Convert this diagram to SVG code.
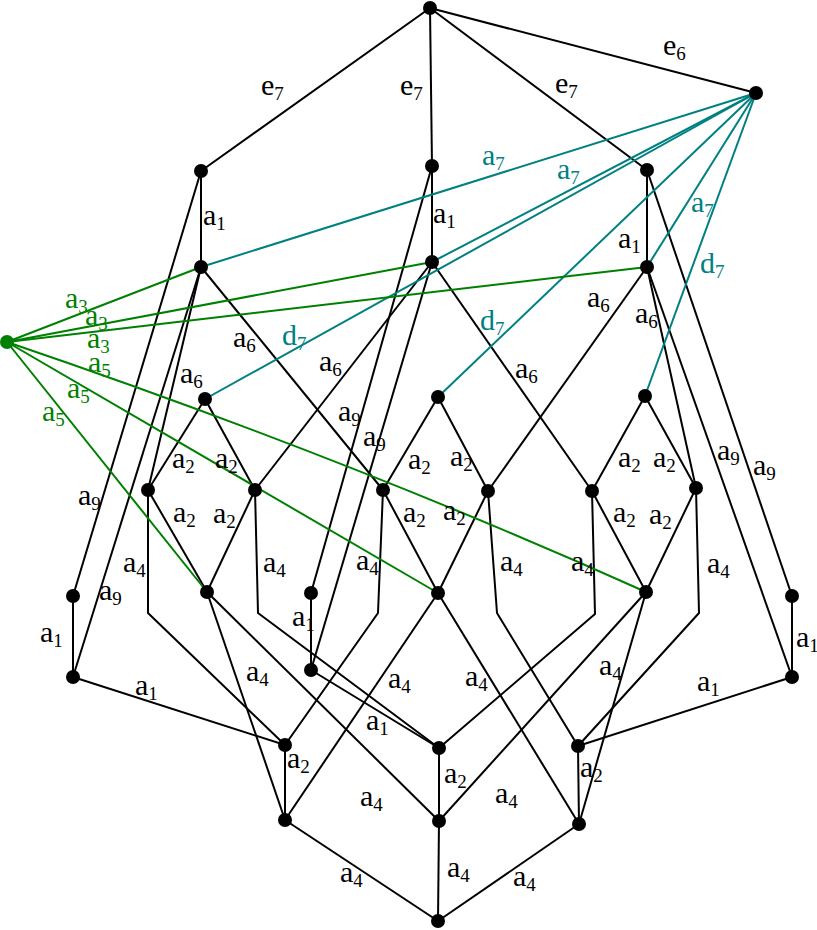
<svg xmlns="http://www.w3.org/2000/svg" width="817" height="930" viewBox="0 0 817 930">
<style>
.e{stroke:#000;stroke-width:2;fill:none;stroke-linejoin:round}
.t{stroke:#008080;stroke-width:2;fill:none}
.g{stroke:#008000;stroke-width:2;fill:none}
.n{fill:#000}
.ng{fill:#008000}
text{font-family:"Liberation Serif","DejaVu Serif",serif;font-size:30px;fill:#000}
text.tl{fill:#008080}
text.gl{fill:#008000}
.s{font-size:19px}
</style>
<rect width="817" height="930" fill="#fff"/>
<g id="connectors">
<line class="e" x1="430" y1="8" x2="201" y2="171"/>
<line class="e" x1="430" y1="8" x2="432" y2="166"/>
<line class="e" x1="430" y1="8" x2="647" y2="170"/>
<line class="e" x1="430" y1="8" x2="756" y2="93"/>
<line class="e" x1="201" y1="171" x2="201" y2="267"/>
<line class="e" x1="432" y1="166" x2="432" y2="262"/>
<line class="e" x1="647" y1="170" x2="647" y2="267"/>
<line class="e" x1="201" y1="171" x2="73" y2="596"/>
<line class="e" x1="432" y1="166" x2="311" y2="593"/>
<line class="e" x1="647" y1="170" x2="792" y2="596"/>
<line class="e" x1="201" y1="267" x2="383" y2="490"/>
<line class="e" x1="201" y1="267" x2="148" y2="490"/>
<line class="e" x1="201" y1="267" x2="73" y2="677"/>
<line class="e" x1="432" y1="262" x2="255" y2="490"/>
<line class="e" x1="432" y1="262" x2="592" y2="491"/>
<line class="e" x1="432" y1="262" x2="311" y2="670"/>
<line class="e" x1="647" y1="267" x2="488" y2="491"/>
<line class="e" x1="647" y1="267" x2="696" y2="488"/>
<line class="e" x1="647" y1="267" x2="792" y2="677"/>
<line class="e" x1="205" y1="399" x2="148" y2="490"/>
<line class="e" x1="205" y1="399" x2="255" y2="490"/>
<line class="e" x1="438" y1="397" x2="383" y2="490"/>
<line class="e" x1="438" y1="397" x2="488" y2="491"/>
<line class="e" x1="645" y1="396" x2="592" y2="491"/>
<line class="e" x1="645" y1="396" x2="696" y2="488"/>
<line class="e" x1="148" y1="490" x2="207" y2="592"/>
<line class="e" x1="255" y1="490" x2="207" y2="592"/>
<line class="e" x1="383" y1="490" x2="438" y2="593"/>
<line class="e" x1="488" y1="491" x2="438" y2="593"/>
<line class="e" x1="592" y1="491" x2="646" y2="592"/>
<line class="e" x1="696" y1="488" x2="646" y2="592"/>
<polyline class="e" points="148,490 148,613 285,745"/>
<polyline class="e" points="255,490 258,613 439,748"/>
<polyline class="e" points="383,490 378,613 285,745"/>
<polyline class="e" points="488,491 497,613 578,746"/>
<polyline class="e" points="592,491 595,614 439,748"/>
<polyline class="e" points="696,488 699,613 578,746"/>
<line class="e" x1="207" y1="592" x2="285" y2="820"/>
<line class="e" x1="207" y1="592" x2="439" y2="821"/>
<line class="e" x1="438" y1="593" x2="285" y2="820"/>
<line class="e" x1="438" y1="593" x2="579" y2="824"/>
<line class="e" x1="646" y1="592" x2="439" y2="821"/>
<line class="e" x1="646" y1="592" x2="579" y2="824"/>
<line class="e" x1="73" y1="596" x2="73" y2="677"/>
<line class="e" x1="311" y1="593" x2="311" y2="670"/>
<line class="e" x1="792" y1="596" x2="792" y2="677"/>
<line class="e" x1="73" y1="677" x2="285" y2="745"/>
<line class="e" x1="311" y1="670" x2="439" y2="748"/>
<line class="e" x1="792" y1="677" x2="578" y2="746"/>
<line class="e" x1="285" y1="745" x2="285" y2="820"/>
<line class="e" x1="439" y1="748" x2="439" y2="821"/>
<line class="e" x1="578" y1="746" x2="579" y2="824"/>
<line class="e" x1="285" y1="820" x2="438" y2="921"/>
<line class="e" x1="439" y1="821" x2="438" y2="921"/>
<line class="e" x1="579" y1="824" x2="438" y2="921"/>
<line class="t" x1="756" y1="93" x2="201" y2="267"/>
<line class="t" x1="756" y1="93" x2="432" y2="262"/>
<line class="t" x1="756" y1="93" x2="205" y2="399"/>
<line class="t" x1="756" y1="93" x2="438" y2="397"/>
<line class="t" x1="756" y1="93" x2="647" y2="267"/>
<line class="t" x1="756" y1="93" x2="645" y2="396"/>
<line class="g" x1="7" y1="342" x2="201" y2="267"/>
<line class="g" x1="7" y1="342" x2="432" y2="262"/>
<line class="g" x1="7" y1="342" x2="647" y2="267"/>
<path class="g" d="M7,342 Q348,458 646,592"/>
<line class="g" x1="7" y1="342" x2="438" y2="593"/>
<line class="g" x1="7" y1="342" x2="207" y2="592"/>
</g>
<g id="labels">
<text x="261" y="95">e<tspan class="s" dy="5">7</tspan></text>
<text x="400" y="95">e<tspan class="s" dy="5">7</tspan></text>
<text x="555" y="93">e<tspan class="s" dy="5">7</tspan></text>
<text x="663" y="55">e<tspan class="s" dy="5">6</tspan></text>
<text x="203" y="225">a<tspan class="s" dy="5">1</tspan></text>
<text x="433" y="223">a<tspan class="s" dy="5">1</tspan></text>
<text x="618" y="248">a<tspan class="s" dy="5">1</tspan></text>
<text class="tl" x="482" y="165">a<tspan class="s" dy="5">7</tspan></text>
<text class="tl" x="557" y="179">a<tspan class="s" dy="5">7</tspan></text>
<text class="tl" x="691" y="212">a<tspan class="s" dy="5">7</tspan></text>
<text class="tl" x="700" y="273">d<tspan class="s" dy="5">7</tspan></text>
<text class="tl" x="480" y="330">d<tspan class="s" dy="5">7</tspan></text>
<text class="tl" x="282" y="345">d<tspan class="s" dy="5">7</tspan></text>
<text class="gl" x="65" y="308">a<tspan class="s" dy="5">3</tspan></text>
<text class="gl" x="85" y="325">a<tspan class="s" dy="5">3</tspan></text>
<text class="gl" x="87" y="348">a<tspan class="s" dy="5">3</tspan></text>
<text class="gl" x="88" y="372">a<tspan class="s" dy="5">5</tspan></text>
<text class="gl" x="67" y="398">a<tspan class="s" dy="5">5</tspan></text>
<text class="gl" x="42" y="421">a<tspan class="s" dy="5">5</tspan></text>
<text x="587" y="307">a<tspan class="s" dy="5">6</tspan></text>
<text x="635" y="323">a<tspan class="s" dy="5">6</tspan></text>
<text x="233" y="347">a<tspan class="s" dy="5">6</tspan></text>
<text x="180" y="383">a<tspan class="s" dy="5">6</tspan></text>
<text x="319" y="371">a<tspan class="s" dy="5">6</tspan></text>
<text x="515" y="378">a<tspan class="s" dy="5">6</tspan></text>
<text x="338" y="421">a<tspan class="s" dy="5">9</tspan></text>
<text x="363" y="446">a<tspan class="s" dy="5">9</tspan></text>
<text x="717" y="460">a<tspan class="s" dy="5">9</tspan></text>
<text x="753" y="475">a<tspan class="s" dy="5">9</tspan></text>
<text x="78" y="505">a<tspan class="s" dy="5">9</tspan></text>
<text x="99" y="600">a<tspan class="s" dy="5">9</tspan></text>
<text x="172" y="468">a<tspan class="s" dy="5">2</tspan></text>
<text x="215" y="468">a<tspan class="s" dy="5">2</tspan></text>
<text x="173" y="522">a<tspan class="s" dy="5">2</tspan></text>
<text x="213" y="523">a<tspan class="s" dy="5">2</tspan></text>
<text x="408" y="469">a<tspan class="s" dy="5">2</tspan></text>
<text x="450" y="466">a<tspan class="s" dy="5">2</tspan></text>
<text x="403" y="522">a<tspan class="s" dy="5">2</tspan></text>
<text x="443" y="520">a<tspan class="s" dy="5">2</tspan></text>
<text x="618" y="467">a<tspan class="s" dy="5">2</tspan></text>
<text x="653" y="467">a<tspan class="s" dy="5">2</tspan></text>
<text x="613" y="522">a<tspan class="s" dy="5">2</tspan></text>
<text x="649" y="524">a<tspan class="s" dy="5">2</tspan></text>
<text x="123" y="572">a<tspan class="s" dy="5">4</tspan></text>
<text x="263" y="572">a<tspan class="s" dy="5">4</tspan></text>
<text x="356" y="570">a<tspan class="s" dy="5">4</tspan></text>
<text x="500" y="571">a<tspan class="s" dy="5">4</tspan></text>
<text x="571" y="571">a<tspan class="s" dy="5">4</tspan></text>
<text x="707" y="573">a<tspan class="s" dy="5">4</tspan></text>
<text x="40" y="642">a<tspan class="s" dy="5">1</tspan></text>
<text x="292" y="626">a<tspan class="s" dy="5">1</tspan></text>
<text x="796" y="647">a<tspan class="s" dy="5">1</tspan></text>
<text x="135" y="695">a<tspan class="s" dy="5">1</tspan></text>
<text x="366" y="730">a<tspan class="s" dy="5">1</tspan></text>
<text x="697" y="691">a<tspan class="s" dy="5">1</tspan></text>
<text x="246" y="681">a<tspan class="s" dy="5">4</tspan></text>
<text x="388" y="688">a<tspan class="s" dy="5">4</tspan></text>
<text x="465" y="686">a<tspan class="s" dy="5">4</tspan></text>
<text x="599" y="675">a<tspan class="s" dy="5">4</tspan></text>
<text x="360" y="806">a<tspan class="s" dy="5">4</tspan></text>
<text x="495" y="803">a<tspan class="s" dy="5">4</tspan></text>
<text x="287" y="768">a<tspan class="s" dy="5">2</tspan></text>
<text x="444" y="783">a<tspan class="s" dy="5">2</tspan></text>
<text x="580" y="777">a<tspan class="s" dy="5">2</tspan></text>
<text x="340" y="882">a<tspan class="s" dy="5">4</tspan></text>
<text x="447" y="877">a<tspan class="s" dy="5">4</tspan></text>
<text x="513" y="886">a<tspan class="s" dy="5">4</tspan></text>
</g>
<g id="n-T"><circle class="n" cx="430" cy="8" r="7"/></g>
<g id="n-E6"><circle class="n" cx="756" cy="93" r="7"/></g>
<g id="n-L1"><circle class="n" cx="201" cy="171" r="7"/></g>
<g id="n-C1"><circle class="n" cx="432" cy="166" r="7"/></g>
<g id="n-R1"><circle class="n" cx="647" cy="170" r="7"/></g>
<g id="n-L2"><circle class="n" cx="201" cy="267" r="7"/></g>
<g id="n-C2"><circle class="n" cx="432" cy="262" r="7"/></g>
<g id="n-R2"><circle class="n" cx="647" cy="267" r="7"/></g>
<g id="n-G"><circle class="ng" cx="7" cy="342" r="7"/></g>
<g id="n-D1"><circle class="n" cx="205" cy="399" r="7"/></g>
<g id="n-D2"><circle class="n" cx="438" cy="397" r="7"/></g>
<g id="n-D3"><circle class="n" cx="645" cy="396" r="7"/></g>
<g id="n-U1"><circle class="n" cx="148" cy="490" r="7"/></g>
<g id="n-U2"><circle class="n" cx="255" cy="490" r="7"/></g>
<g id="n-U3"><circle class="n" cx="383" cy="490" r="7"/></g>
<g id="n-U4"><circle class="n" cx="488" cy="491" r="7"/></g>
<g id="n-U5"><circle class="n" cx="592" cy="491" r="7"/></g>
<g id="n-U6"><circle class="n" cx="696" cy="488" r="7"/></g>
<g id="n-M1"><circle class="n" cx="207" cy="592" r="7"/></g>
<g id="n-M2"><circle class="n" cx="438" cy="593" r="7"/></g>
<g id="n-M3"><circle class="n" cx="646" cy="592" r="7"/></g>
<g id="n-S1"><circle class="n" cx="73" cy="596" r="7"/></g>
<g id="n-S2"><circle class="n" cx="311" cy="593" r="7"/></g>
<g id="n-S3"><circle class="n" cx="792" cy="596" r="7"/></g>
<g id="n-P1"><circle class="n" cx="73" cy="677" r="7"/></g>
<g id="n-P2"><circle class="n" cx="311" cy="670" r="7"/></g>
<g id="n-P3"><circle class="n" cx="792" cy="677" r="7"/></g>
<g id="n-Q1"><circle class="n" cx="285" cy="745" r="7"/></g>
<g id="n-Q2"><circle class="n" cx="439" cy="748" r="7"/></g>
<g id="n-Q3"><circle class="n" cx="578" cy="746" r="7"/></g>
<g id="n-B1"><circle class="n" cx="285" cy="820" r="7"/></g>
<g id="n-B2"><circle class="n" cx="439" cy="821" r="7"/></g>
<g id="n-B3"><circle class="n" cx="579" cy="824" r="7"/></g>
<g id="n-Z"><circle class="n" cx="438" cy="921" r="7"/></g>
</svg>
